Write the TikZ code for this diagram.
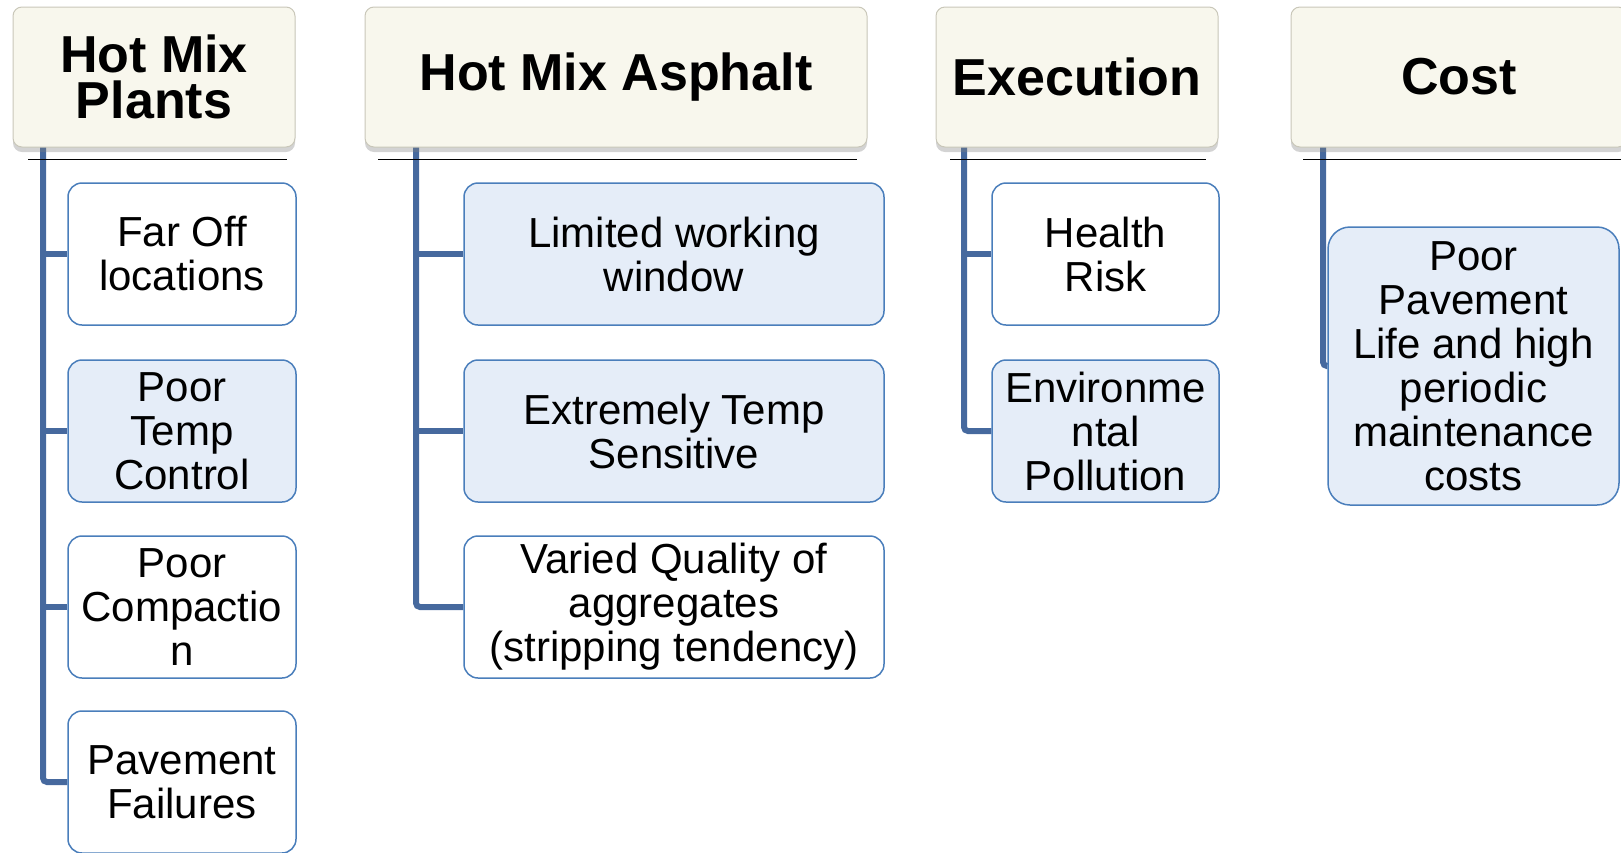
\documentclass[tikz,border=0pt]{standalone}
\usepackage{fontspec}
\setmainfont{Liberation Sans}
\usetikzlibrary{shadows,backgrounds}

\definecolor{headfill}{HTML}{F8F7ED}
\definecolor{headline}{HTML}{C9C7B9}
\definecolor{itemline}{HTML}{4A7EBB}
\definecolor{itemfill}{HTML}{E5EDF8}
\definecolor{linkblue}{HTML}{46699E}

\begin{document}
\begin{tikzpicture}[x=1pt,y=-1pt,
    head/.style={draw=headline, line width=1pt, fill=headfill,
      rounded corners=9pt, minimum height=140pt, inner sep=0pt,
      drop shadow={shadow xshift=0pt, shadow yshift=-5pt, opacity=0.35},
      align=center, font=\bfseries\fontsize{52}{46}\selectfont},
    item/.style={draw=itemline, line width=1.5pt, fill=white,
      rounded corners=14pt, minimum height=142pt, inner sep=0pt,
      align=center, font=\fontsize{42}{44}\selectfont},
    shaded/.style={item, fill=itemfill},
    link/.style={draw=linkblue, line width=6pt, rounded corners=4pt},
    rule/.style={draw=black, line width=1pt}]
  \useasboundingbox (0,0) rectangle (1621,852);

  % trunk tops
  \coordinate (t1) at (43,147);
  \coordinate (t2) at (416,147);
  \coordinate (t3) at (964,147);
  \coordinate (t4) at (1323,147);

  % thin rules above and below the headers
  \draw[rule] (28,7) -- (287,7);     \draw[rule] (28,159) -- (287,159);
  \draw[rule] (378,7) -- (857,7);    \draw[rule] (378,159) -- (857,159);
  \draw[rule] (950,7) -- (1206,7);   \draw[rule] (950,159) -- (1206,159);
  \draw[rule] (1303,7) -- (1621,7);  \draw[rule] (1303,159) -- (1621,159);

  % headers
  \node[head, minimum width=282pt] (hmp)  at (154,77)  {Hot Mix\\Plants};
  \node[head, minimum width=502pt] (hma)  at (616,77)  {Hot Mix Asphalt};
  \node[head, minimum width=282pt] (exec) at (1077,77) {Execution};
  \node[head, minimum width=336pt] (cost) at (1459,77) {Cost};

  % child boxes
  \node[item,   minimum width=228pt] (far)   at (182,254) {Far Off\\locations};
  \node[shaded, minimum width=228pt] (ptemp) at (182,431) {Poor\\Temp\\Control};
  \node[item,   minimum width=228pt] (pcomp) at (182,607) {Poor\\Compactio\\n};
  \node[item,   minimum width=228pt] (pfail) at (182,782) {Pavement\\Failures};

  \node[shaded, minimum width=420pt] (lww)  at (674,254) {Limited working\\window};
  \node[shaded, minimum width=420pt] (ets)  at (674,431) {Extremely Temp\\Sensitive};
  \node[item,   minimum width=420pt] (vqa)  at (674,607) {Varied Quality of\\aggregates\\(stripping tendency)};

  \node[item,   minimum width=227pt] (hrisk) at (1105.5,254) {Health\\Risk};
  \node[shaded, minimum width=227pt] (envp)  at (1105.5,431) {Environme\\ntal\\Pollution};

  \node[shaded, minimum width=291pt, minimum height=278pt, rounded corners=22pt]
    (ppl) at (1473.5,366) {Poor\\Pavement\\Life and high\\periodic\\maintenance\\costs};

  % connectors, behind the boxes
  \begin{scope}[on background layer]
    \draw[link] (t1) |- (pfail.west);
    \foreach \n in {far,ptemp,pcomp} \draw[link] (t1 |- \n.west) -- (\n.west);
    \draw[link] (t2) |- (vqa.west);
    \foreach \n in {lww,ets} \draw[link] (t2 |- \n.west) -- (\n.west);
    \draw[link] (t3) |- (envp.west);
    \draw[link] (t3 |- hrisk.west) -- (hrisk.west);
    \draw[link] (t4) |- (ppl.west);
  \end{scope}
\end{tikzpicture}
\end{document}
